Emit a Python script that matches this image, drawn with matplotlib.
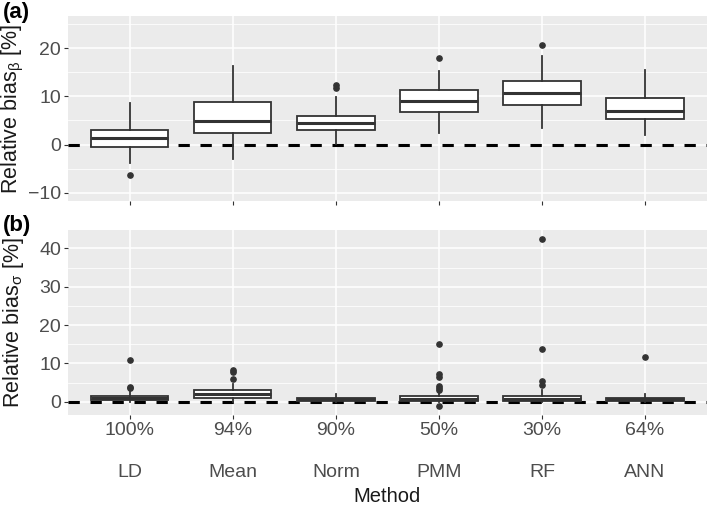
import numpy as np
import matplotlib.pyplot as plt
from matplotlib.ticker import MultipleLocator

plt.rcParams['font.family'] = ['Liberation Sans', 'DejaVu Sans']
plt.rcParams['mathtext.fontset'] = 'custom'
plt.rcParams['mathtext.rm'] = 'Liberation Sans'
plt.rcParams['mathtext.it'] = 'Liberation Sans'

methods = ['LD', 'Mean', 'Norm', 'PMM', 'RF', 'ANN']
coverage = ['100%', '94%', '90%', '50%', '30%', '64%']

# (a) relative bias of beta [%]
beta_whislo = [-3.8, -3.0, 0.1, 2.3, 3.5, 2.0]
beta_q1 = [-0.6, 2.4, 3.0, 6.8, 8.1, 5.2]
beta_med = [1.3, 4.8, 4.4, 9.1, 10.6, 6.9]
beta_q3 = [3.0, 8.8, 5.9, 11.2, 13.1, 9.7]
beta_whishi = [8.6, 16.2, 9.9, 15.3, 18.4, 15.4]
beta_fliers = [[-6.4], [], [12.4, 11.8], [18.0], [20.6], []]

# (b) relative bias of sigma [%]
sig_whislo = [0.0, 0.0, -0.2, 0.0, 0.0, 0.0]
sig_q1 = [0.4, 0.9, 0.2, 0.2, 0.1, 0.1]
sig_med = [0.9, 2.1, 0.6, 0.8, 0.8, 0.6]
sig_q3 = [1.6, 3.0, 1.0, 1.5, 1.4, 1.0]
sig_whishi = [2.6, 4.5, 2.1, 2.3, 3.0, 2.0]
sig_fliers = [[11.0, 3.9, 3.5], [8.3, 7.8, 5.8], [],
              [15.0, 7.2, 6.5, 4.1, 3.5, 3.0, -1.2],
              [42.5, 13.7, 5.5, 4.4], [11.7]]


def make_stats(lo, q1, med, q3, hi, fl):
    return [dict(whislo=a, q1=b, med=c, q3=d, whishi=e, fliers=f)
            for a, b, c, d, e, f in zip(lo, q1, med, q3, hi, fl)]


def style_axis(ax, ylim, major, minor):
    ax.set_facecolor('#EBEBEB')
    ax.set_xlim(0.4, len(methods) + 0.6)
    ax.set_ylim(*ylim)
    ax.yaxis.set_major_locator(MultipleLocator(major))
    ax.yaxis.set_minor_locator(MultipleLocator(minor))
    ax.set_xticks(range(1, len(methods) + 1))
    ax.grid(which='major', color='white', lw=1.1)
    ax.grid(which='minor', axis='y', color='white', lw=0.55)
    ax.set_axisbelow(True)
    for s in ax.spines.values():
        s.set_visible(False)
    ax.tick_params(which='major', length=3, width=0.8, color='#333333',
                   labelsize=14, labelcolor='#4D4D4D', pad=2)
    ax.tick_params(which='minor', length=0)


def draw(ax, stats):
    ax.axhline(0, color='black', lw=2.2, dashes=(3.7, 3.5), zorder=1)
    ax.bxp(stats, positions=range(1, len(methods) + 1), widths=0.75,
           showcaps=False, patch_artist=True,
           boxprops=dict(facecolor='white', edgecolor='#333333', lw=1.3),
           whiskerprops=dict(color='#333333', lw=1.3),
           medianprops=dict(color='#333333', lw=2.2),
           flierprops=dict(marker='o', markersize=3.8, markerfacecolor='#333333',
                           markeredgecolor='#333333'),
           zorder=2)


fig = plt.figure(figsize=(7.09, 5.05), dpi=100)
ax1 = fig.add_axes([0.0959, 0.602, 0.901, 0.366])
ax2 = fig.add_axes([0.0959, 0.178, 0.901, 0.3666])

draw(ax1, make_stats(beta_whislo, beta_q1, beta_med, beta_q3, beta_whishi, beta_fliers))
style_axis(ax1, (-11.7, 26.6), 10, 5)
ax1.set_xticklabels([])
ax1.set_ylabel('Relative bias$_{\\mathrm{\\beta}}$ [%]', fontsize=15.5, color='#1A1A1A')
ax1.yaxis.set_label_coords(-0.066, 0.5)

draw(ax2, make_stats(sig_whislo, sig_q1, sig_med, sig_q3, sig_whishi, sig_fliers))
style_axis(ax2, (-3.5, 44.8), 10, 5)
ax2.set_xticklabels([c + '\n\n' + m for c, m in zip(coverage, methods)])
for lab in ax2.get_xticklabels():
    lab.set_linespacing(1.3)
ax2.tick_params(axis='x', pad=2)
ax2.set_ylabel('Relative bias$_{\\mathrm{\\sigma}}$ [%]', fontsize=15.5, color='#1A1A1A')
ax2.yaxis.set_label_coords(-0.066, 0.5)
ax2.set_xlabel('Method', fontsize=14.5, color='#1A1A1A')
ax2.xaxis.set_label_coords(0.5, -0.39)

fig.text(0.004, 0.976, '(a)', fontsize=16, fontweight='bold', va='center')
fig.text(0.004, 0.553, '(b)', fontsize=16, fontweight='bold', va='center')

fig.savefig('out.png', dpi=100)
